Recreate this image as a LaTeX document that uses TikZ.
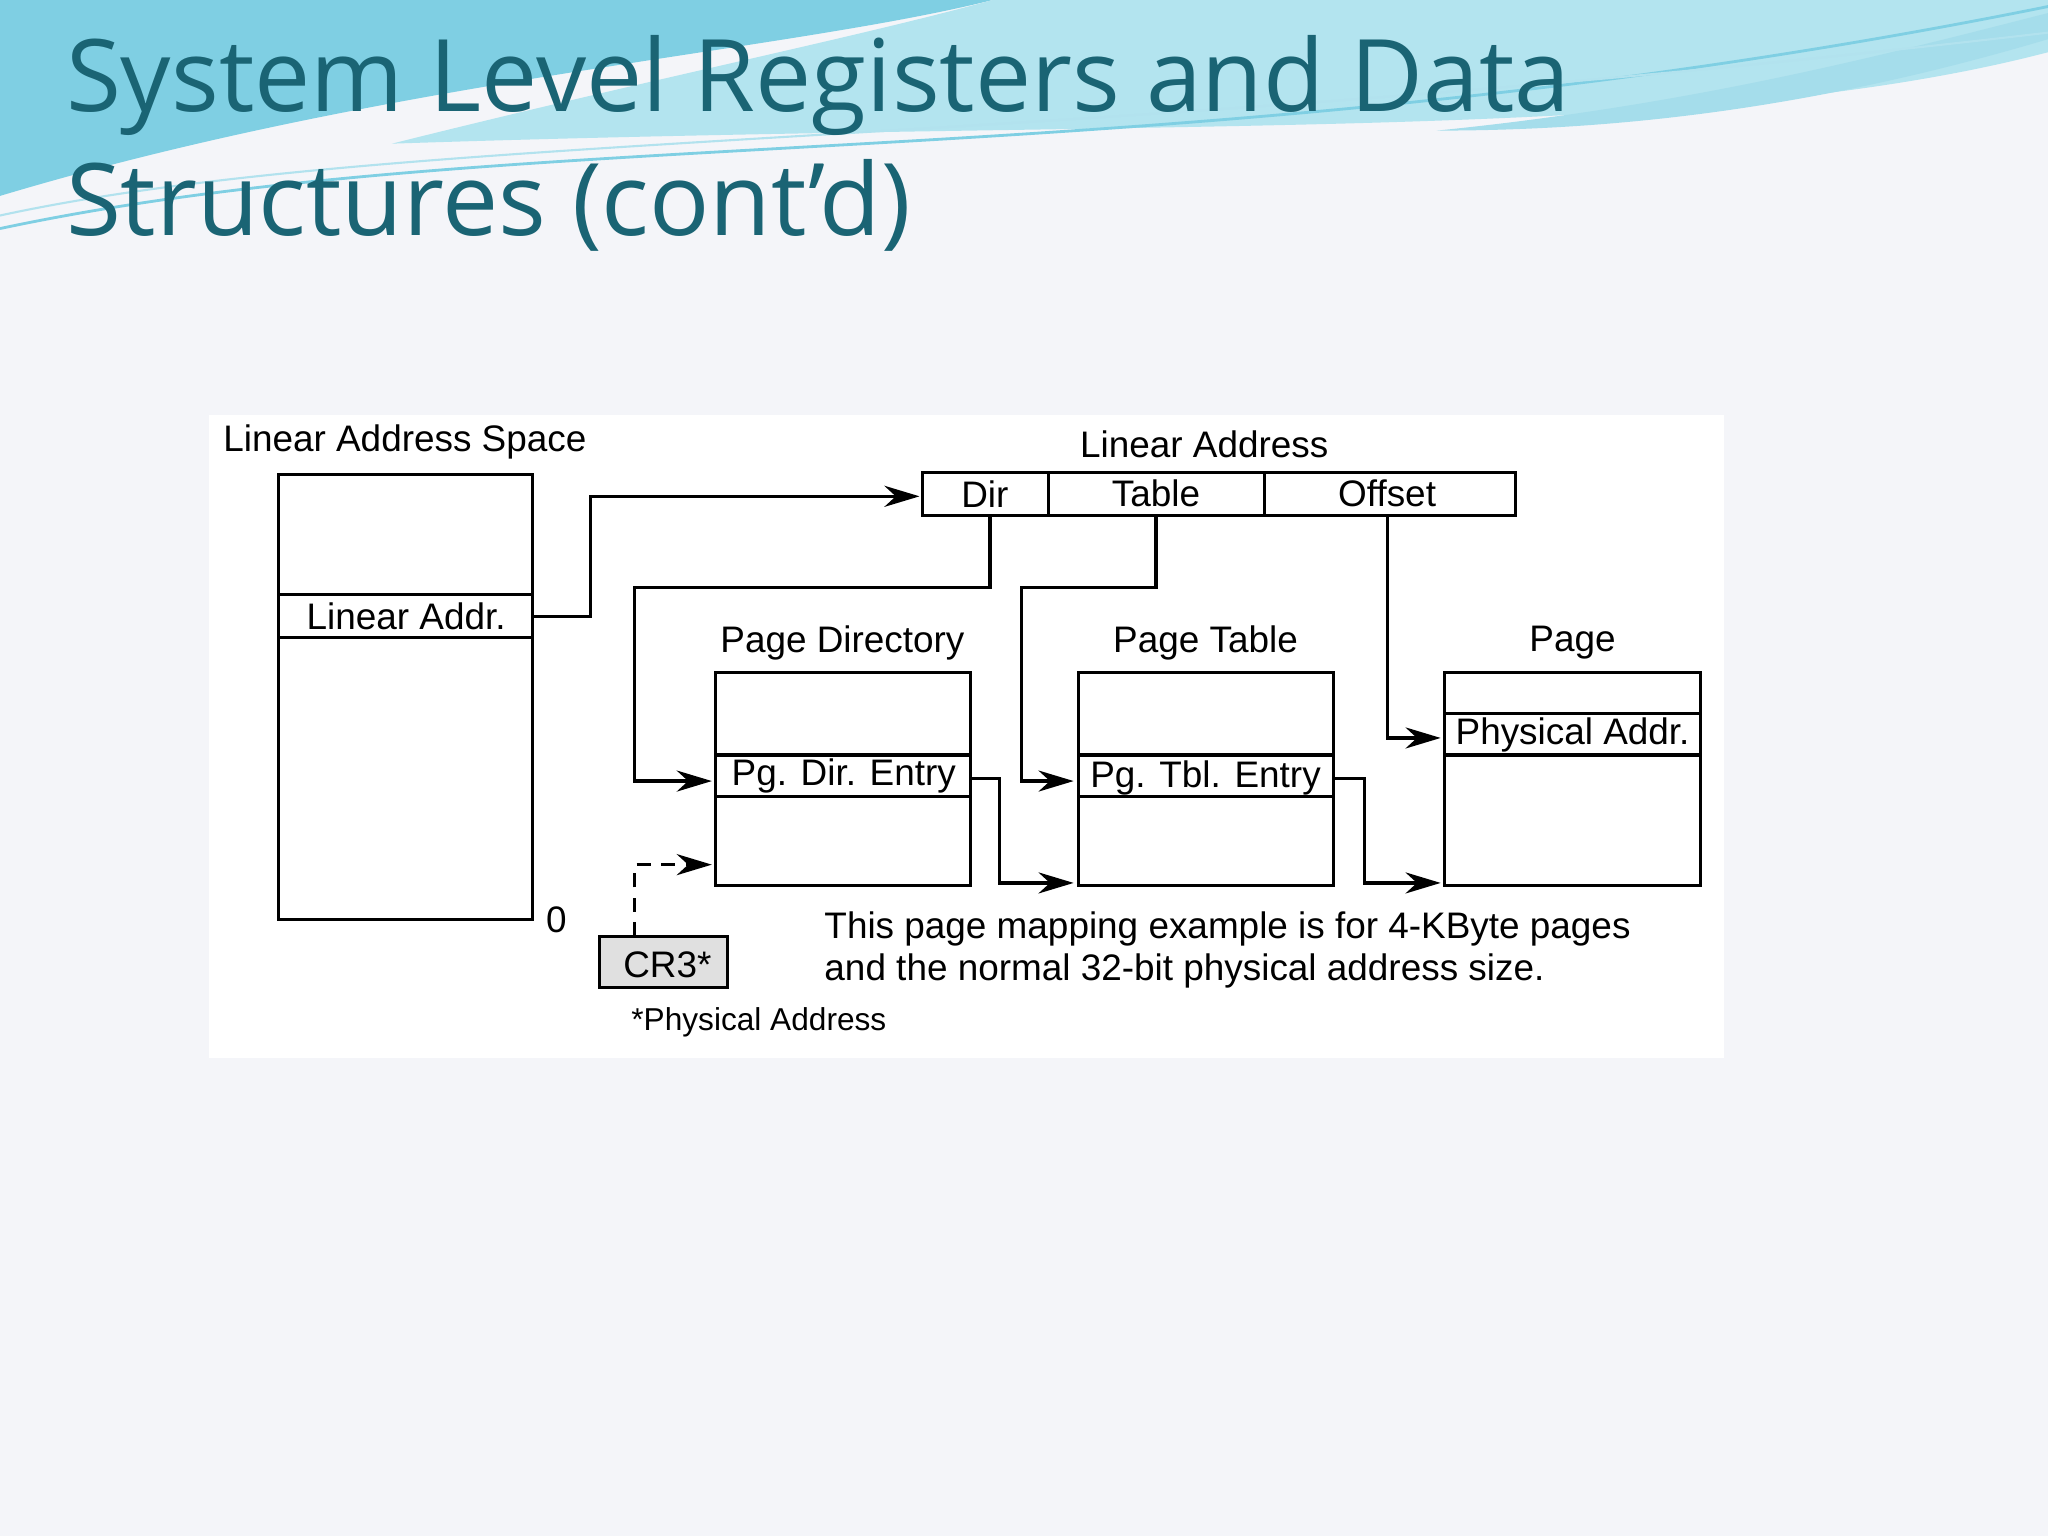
\documentclass[tikz,border=0pt]{standalone}
\usepackage{fontspec}
\setmainfont{Liberation Sans}
\newfontfamily\titlefont{Open Sans}
\usetikzlibrary{arrows.meta}
\definecolor{bgc}{HTML}{F4F5F9}
\definecolor{titc}{HTML}{1A6474}
\definecolor{wave1}{HTML}{7FCFE3}
\definecolor{wave2}{HTML}{B3E4EF}
\begin{document}
\begin{tikzpicture}[x=0.013061cm,y=-0.013061cm,
  box/.style={draw,line width=0.9pt},
  lab/.style={font=\fontsize{10.5pt}{12pt}\selectfont,inner sep=1pt},
  conn/.style={line width=0.9pt},
  arr/.style={conn,-{Stealth[length=10pt,width=6pt]}}]
\useasboundingbox (0,0) rectangle (1568,1176);
\fill[bgc] (0,0) rectangle (1568,1176);
% top waves
\fill[wave1] (0,0) -- (760,0) .. controls (600,40) and (300,60) .. (0,150) -- cycle;
\fill[wave2] (760,0) -- (1568,0) -- (1568,40) .. controls (1300,110) and (900,90) .. (300,110) .. controls (500,60) and (650,30) .. (760,0) -- cycle;
\fill[wave1!70] (1568,30) .. controls (1400,80) and (1250,100) .. (1100,100) .. controls (1300,80) and (1450,40) .. (1568,10) -- cycle;
\draw[wave1,line width=0.8pt] (0,175) .. controls (400,90) and (900,140) .. (1568,5);
\draw[wave1!60!white,line width=0.6pt] (0,165) .. controls (300,100) and (800,115) .. (1568,25);
\node[anchor=base west,inner sep=0,text=titc,font=\titlefont\fontsize{28.5pt}{34pt}\selectfont] (t1) at (50,85) {System Level Registers and Data};
\node[anchor=base west,inner sep=0,text=titc,font=\titlefont\fontsize{28.5pt}{34pt}\selectfont] (t2) at (50,180) {Structures (cont’d)};
% diagram panel
\fill[white] (160,318) rectangle (1320,810);
% Linear address space
\node[lab] (lasl) at (310,338) {Linear Address Space};
\draw[box] (213,363) rectangle (408,704);
\draw[box] (213,455) -- (408,455) (213,488) -- (408,488);
\node[lab] (la) at (311,472) {Linear Addr.};
\node[lab] (zero) at (426,704) {0};
% Linear address bar
\node[lab] (lal) at (922,340) {Linear Address};
\draw[box] (706,362) rectangle (1160,395);
\draw[box] (803,362) -- (803,395) (968,362) -- (968,395);
\node[lab] (dir) at (754,378) {Dir};
\node[lab] (tab) at (885,378) {Table};
\node[lab] (off) at (1062,378) {Offset};
% Page directory
\node[lab] (pdl) at (645,492) {Page Directory};
\draw[box] (548,515) rectangle (743,678);
\draw[box] (548,578) -- (743,578) (548,610) -- (743,610);
\node[lab] (pde) at (646,594) {Pg. Dir. Entry};
% Page table
\node[lab] (ptl) at (923,492) {Page Table};
\draw[box] (826,515) rectangle (1021,678);
\draw[box] (826,578) -- (1021,578) (826,610) -- (1021,610);
\node[lab] (pte) at (923,596) {Pg. Tbl. Entry};
% Page
\node[lab] (pgl) at (1204,492) {Page};
\draw[box] (1106,515) rectangle (1302,678);
\draw[box] (1106,546) -- (1302,546) (1106,578) -- (1302,578);
\node[lab] (pa) at (1204,563) {Physical Addr.};
% CR3
\fill[black!12] (459,717) rectangle (557,756);
\draw[box] (459,717) rectangle (557,756);
\node[lab] (cr3t) at (511,739) {CR3*};
\node[lab,font=\fontsize{9pt}{11pt}\selectfont] (phys) at (581,783) {*Physical Address};
\node[lab,anchor=west,align=left] (note) at (628,727) {This page mapping example is for 4-KByte pages\\and the normal 32-bit physical address size.};
% coordinates
\coordinate (laO) at (408,472);
\coordinate (barIn) at (704,380);
\coordinate (dirB) at (758,395);
\coordinate (tabB) at (885,395);
\coordinate (offB) at (1062,395);
\coordinate (pdIn) at (545,598);
\coordinate (ptIn) at (822,598);
\coordinate (paIn) at (1103,565);
\coordinate (pdeO) at (743,596);
\coordinate (pteO) at (1021,596);
\coordinate (ptB) at (822,676);
\coordinate (pgB) at (1103,676);
\coordinate (cr3T) at (486,717);
\coordinate (pdC) at (545,662);
% connectors
\draw[arr] (laO) -- (452,472) -- (452,380) -- (barIn);
\draw[arr] (dirB) -- (758,450) -- (486,450) -- (486,598) -- (pdIn);
\draw[arr] (tabB) -- (885,450) -- (782,450) -- (782,598) -- (ptIn);
\draw[arr] (offB) -- (1062,565) -- (paIn);
\draw[arr] (pdeO) -- (765,596) -- (765,676) -- (ptB);
\draw[arr] (pteO) -- (1045,596) -- (1045,676) -- (pgB);
\draw[arr,dash pattern=on 4pt off 3pt] (cr3T) -- (486,662) -- (pdC);
\end{tikzpicture}
\end{document}
